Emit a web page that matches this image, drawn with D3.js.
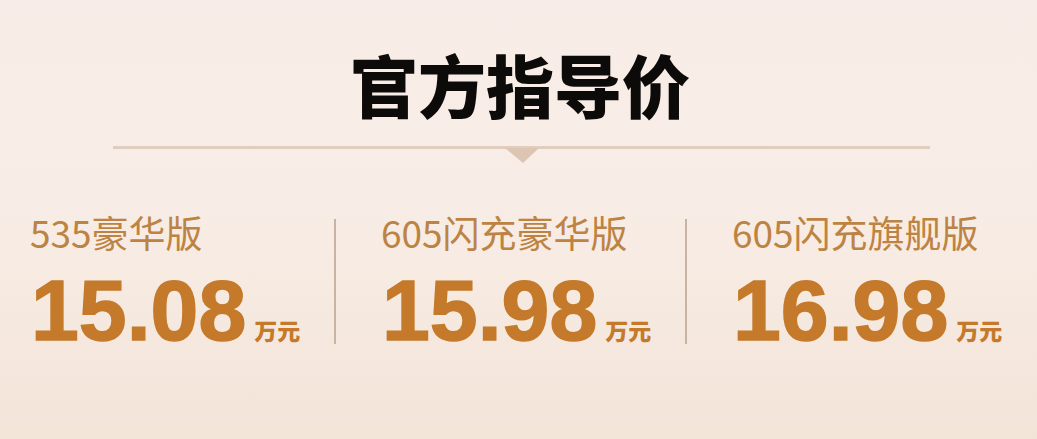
<!DOCTYPE html>
<html>
<head>
<meta charset="utf-8">
<script src="https://cdn.jsdelivr.net/npm/d3@7"></script>
<style>
  html, body { margin: 0; padding: 0; overflow: hidden; }
</style>
</head>
<body>
<svg width="1037" height="439"></svg>
<script>
var title = "官方指导价";
var trims = ["535豪华版", "605闪充豪华版", "605闪充旗舰版"];
var prices = [15.08, 15.98, 16.98];
var unit = "万元";

var svg = d3.select("svg");
var width = +svg.attr("width");
var height = +svg.attr("height");

// background gradient: pinkish top, warm cream bottom
var defs = svg.append("defs");
var grad = defs.append("linearGradient").attr("id", "bg")
    .attr("x1", 0).attr("y1", 0).attr("x2", 0).attr("y2", 1);
grad.append("stop").attr("offset", "0%").attr("stop-color", "#f8ece8");
grad.append("stop").attr("offset", "45%").attr("stop-color", "#f8ede6");
grad.append("stop").attr("offset", "100%").attr("stop-color", "#f3e4d8");
svg.append("rect").attr("width", width).attr("height", height).attr("fill", "url(#bg)");

var cjk = "'Noto Sans CJK SC', 'Noto Sans', sans-serif";

svg.append("text")
    .attr("x", 520)
    .attr("y", 113)
    .attr("text-anchor", "middle")
    .attr("font-family", cjk)
    .attr("font-weight", 900)
    .attr("font-size", "68px")
    .attr("fill", "#0d0b0a")
    .text(title);

// rule with little pointer
svg.append("line")
    .attr("x1", 113).attr("x2", 930)
    .attr("y1", 147.5).attr("y2", 147.5)
    .attr("stroke", "#e0cdbd").attr("stroke-width", 3);
svg.append("path")
    .attr("d", "M505,148 L539,148 L523,163 Z")
    .attr("fill", "#dcc6b3");

var x = d3.scaleBand().domain(trims).range([30, 1083]);

var col = svg.selectAll(".col")
    .data(trims.map(function(d, i) { return {trim: d, price: prices[i]}; }))
    .enter().append("g")
    .attr("class", "col")
    .attr("transform", function(d) { return "translate(" + x(d.trim) + ",0)"; });

col.append("text")
    .attr("x", 0)
    .attr("y", 248)
    .attr("font-family", cjk)
    .attr("font-weight", 400)
    .attr("font-size", "37px")
    .attr("fill", "#bd8343")
    .text(function(d) { return d.trim; });

var priceText = col.append("text")
    .attr("x", 1)
    .attr("y", 340)
    .attr("font-family", "'Liberation Sans', Arial, sans-serif")
    .attr("font-weight", 700)
    .attr("font-size", "86px")
    .attr("fill", "#c47a2a")
    .attr("stroke", "#c47a2a")
    .attr("stroke-width", 1.5);
priceText.append("tspan")
    .text(function(d) { return d3.format(".2f")(d.price); });
priceText.append("tspan")
    .attr("dx", 8)
    .attr("font-family", cjk)
    .attr("font-weight", 900)
    .attr("font-size", "23px")
    .attr("stroke-width", 0)
    .text(unit);

// dividers between columns
svg.selectAll(".divider")
    .data(trims.slice(1))
    .enter().append("line")
    .attr("class", "divider")
    .attr("x1", function(d) { return x(d) - 46; })
    .attr("x2", function(d) { return x(d) - 46; })
    .attr("y1", 219).attr("y2", 344)
    .attr("stroke", "#c9b3a2").attr("stroke-width", 2);
</script>
</body>
</html>
